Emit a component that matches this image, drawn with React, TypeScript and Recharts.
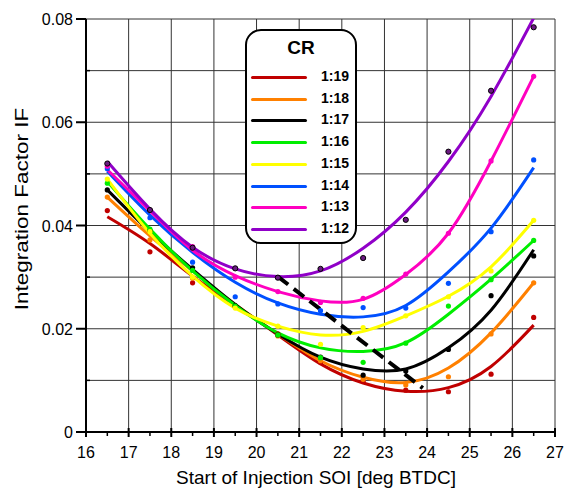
import React from "react";
import { CartesianGrid, ComposedChart, Line, Scatter, XAxis, YAxis } from "recharts";

// start of injection (deg BTDC) for every measured point
const soi = [16.5, 17.5, 18.5, 19.5, 20.5, 21.5, 22.5, 23.5, 24.5, 25.5, 26.5];

// fitted curves at each SOI
const fit19 = [0.0417, 0.0365, 0.0302, 0.0245, 0.0188, 0.0132, 0.0095, 0.0079, 0.0086, 0.0127, 0.0207];
const fit18 = [0.0455, 0.038, 0.0312, 0.0247, 0.019, 0.0138, 0.0106, 0.0096, 0.0124, 0.0192, 0.0289];
const fit17 = [0.0469, 0.0388, 0.0315, 0.0247, 0.019, 0.0145, 0.0122, 0.0122, 0.0163, 0.0236, 0.0353];
const fit16 = [0.0485, 0.0393, 0.0312, 0.0245, 0.0192, 0.0163, 0.0156, 0.0173, 0.0228, 0.0296, 0.0371];
const fit15 = [0.049, 0.0385, 0.0302, 0.024, 0.0205, 0.0188, 0.0195, 0.0225, 0.0263, 0.032, 0.041];
const fit14 = [0.0505, 0.042, 0.0348, 0.029, 0.025, 0.0228, 0.0223, 0.0245, 0.031, 0.0395, 0.0512];
const fit13 = [0.0508, 0.0428, 0.0352, 0.0303, 0.0272, 0.0254, 0.0257, 0.0305, 0.0385, 0.0525, 0.0689];
const fit12 = [0.0524, 0.0432, 0.0358, 0.0316, 0.0301, 0.0312, 0.0356, 0.0426, 0.0524, 0.065, 0.0802];

// measured points
const pts19 = [0.0429, 0.0349, 0.0289, 0.0243, 0.019, 0.0135, 0.0098, 0.0081, 0.0078, 0.0112, 0.0222];
const pts18 = [0.0455, 0.0372, 0.0298, 0.0243, 0.0186, 0.0138, 0.0102, 0.0091, 0.0107, 0.019, 0.0289];
const pts17 = [0.0469, 0.039, 0.0318, 0.0245, 0.0188, 0.0145, 0.011, 0.0118, 0.016, 0.0264, 0.0341];
const pts16 = [0.0482, 0.0393, 0.0313, 0.0244, 0.0188, 0.0144, 0.0135, 0.0172, 0.0244, 0.0295, 0.0371];
const pts15 = [0.049, 0.0388, 0.03, 0.024, 0.0205, 0.017, 0.0202, 0.0225, 0.0262, 0.0312, 0.041];
const pts14 = [0.051, 0.0415, 0.0329, 0.0262, 0.0248, 0.0235, 0.0241, 0.024, 0.0288, 0.0388, 0.0527];
const pts13 = [0.0515, 0.043, 0.0359, 0.03, 0.0272, 0.0251, 0.0259, 0.0306, 0.0385, 0.0525, 0.0689];
const pts12 = [0.052, 0.043, 0.0357, 0.0317, 0.0299, 0.0316, 0.0337, 0.0411, 0.0543, 0.0661, 0.0784];

// dashed line through the minima
const minLineX = [20.5, 23.9];
const minLineY = [0.0301, 0.0085];

const ratios = ["1:19", "1:18", "1:17", "1:16", "1:15", "1:14", "1:13", "1:12"];
const fits = [fit19, fit18, fit17, fit16, fit15, fit14, fit13, fit12];
const points = [pts19, pts18, pts17, pts16, pts15, pts14, pts13, pts12];
const colors = ["#c00000", "#ff8000", "#000000", "#00ee00", "#ffff00", "#0050ff", "#ff00c0", "#9000c8"];

const xTicks = [16, 16.5, 17, 17.5, 18, 18.5, 19, 19.5, 20, 20.5, 21, 21.5, 22, 22.5, 23, 23.5, 24, 24.5, 25, 25.5, 26, 26.5, 27];
const xGrid = [16, 17, 18, 19, 20, 21, 22, 23, 24, 25, 26, 27];
const yTicks = [0, 0.01, 0.02, 0.03, 0.04, 0.05, 0.06, 0.07, 0.08];

const FONT = "'Liberation Sans', Arial, sans-serif";

const toXY = (ys: number[]) => ys.map((y, i) => ({ x: soi[i], y }));

const XTick = (props: any) => {
  const { x, y, payload } = props;
  const v = payload.value;
  const major = Number.isInteger(v);
  return (
    <g>
      <line x1={x} x2={x} y1={major ? y - 4 : y} y2={y + (major ? 5 : 4)} stroke="#000" strokeWidth={major ? 2 : 1.5} />
      {major && (
        <text x={x} y={y + 26} textAnchor="middle" fontSize={16} fontFamily={FONT} fill="#000">
          {v}
        </text>
      )}
    </g>
  );
};

const YTick = (props: any) => {
  const { x, y, payload } = props;
  const v = payload.value;
  const major = Math.round(v * 100) % 2 === 0;
  if (!major) {
    return <line x1={x} x2={x + 4} y1={y} y2={y} stroke="#000" strokeWidth={1.5} />;
  }
  return (
    <g>
      <line x1={x - 10} x2={x} y1={y} y2={y} stroke="#000" strokeWidth={2} />
      <text x={x - 13} y={y + 6} textAnchor="end" fontSize={16} fontFamily={FONT} fill="#000">
        {v === 0 ? "0" : v.toFixed(2)}
      </text>
    </g>
  );
};

const Dot = (props: any) => {
  const { cx, cy, fill } = props;
  if (cx == null || cy == null) return null;
  const dark = fill === "#9000c8";
  return <circle cx={cx} cy={cy} r={2.6} fill={dark ? "#6a1a80" : fill} stroke={dark ? "#000" : "none"} strokeWidth={1} />;
};

function Legend() {
  return (
    <div
      style={{
        position: "absolute",
        left: 245,
        top: 29,
        width: 108,
        height: 211,
        border: "2px solid #000",
        borderRadius: 16,
        background: "#fff",
        fontFamily: FONT,
      }}
    >
      <div style={{ position: "absolute", top: 6, width: "100%", textAlign: "center", fontWeight: "bold", fontSize: 19 }}>CR</div>
      {ratios.map((r, i) => (
        <div key={r} style={{ position: "absolute", left: 0, top: 37 + i * 21.7, width: "100%", height: 18 }}>
          <div style={{ position: "absolute", left: 4, top: 8, width: 56, height: 3, background: colors[i], borderRadius: 2 }} />
          <div style={{ position: "absolute", left: 74, top: 0, fontWeight: "bold", fontSize: 14 }}>{r}</div>
        </div>
      ))}
    </div>
  );
}

export default function App() {
  return (
    <div style={{ position: "absolute", left: 0, top: 0, width: 566, height: 488, background: "#fff" }}>
      <ComposedChart width={566} height={488} margin={{ top: 19, right: 11, left: 0, bottom: 0 }}>
        <CartesianGrid stroke="#333" strokeWidth={1} verticalValues={xGrid} horizontalValues={yTicks} />
        <XAxis
          type="number"
          dataKey="x"
          domain={[16, 27]}
          ticks={xTicks}
          interval={0}
          height={56}
          tickSize={0}
          tickMargin={0}
          tickLine={false}
          axisLine={{ stroke: "#000", strokeWidth: 2 }}
          tick={<XTick />}
          allowDataOverflow
        />
        <YAxis
          type="number"
          dataKey="y"
          domain={[0, 0.08]}
          ticks={yTicks}
          interval={0}
          width={86}
          tickSize={0}
          tickMargin={0}
          tickLine={false}
          axisLine={{ stroke: "#000", strokeWidth: 2 }}
          tick={<YTick />}
          allowDataOverflow
        />
        {fits.map((f, i) => (
          <Line
            key={"fit" + ratios[i]}
            data={toXY(f)}
            dataKey="y"
            type="natural"
            stroke={colors[i]}
            strokeWidth={3}
            dot={false}
            activeDot={false}
            isAnimationActive={false}
          />
        ))}
        {points.map((p, i) => (
          <Scatter
            key={"pts" + ratios[i]}
            data={toXY(p)}
            dataKey="y"
            fill={colors[i]}
            shape={<Dot />}
            isAnimationActive={false}
          />
        ))}
        <Line
          data={minLineX.map((x, i) => ({ x, y: minLineY[i] }))}
          dataKey="y"
          type="linear"
          stroke="#000"
          strokeWidth={4}
          strokeDasharray="13 7"
          dot={false}
          activeDot={false}
          isAnimationActive={false}
        />
      </ComposedChart>
      <div
        style={{
          position: "absolute",
          left: 22,
          top: 209,
          transform: "translate(-50%, -50%) rotate(-90deg) scaleX(1.25)",
          whiteSpace: "nowrap",
          fontFamily: FONT,
          fontSize: 18,
        }}
      >
        Integration Factor IF
      </div>
      <div
        style={{
          position: "absolute",
          left: 316,
          top: 478,
          transform: "translate(-50%, -50%)",
          whiteSpace: "nowrap",
          fontFamily: FONT,
          fontSize: 19,
        }}
      >
        Start of Injection SOI [deg BTDC]
      </div>
      <Legend />
    </div>
  );
}
